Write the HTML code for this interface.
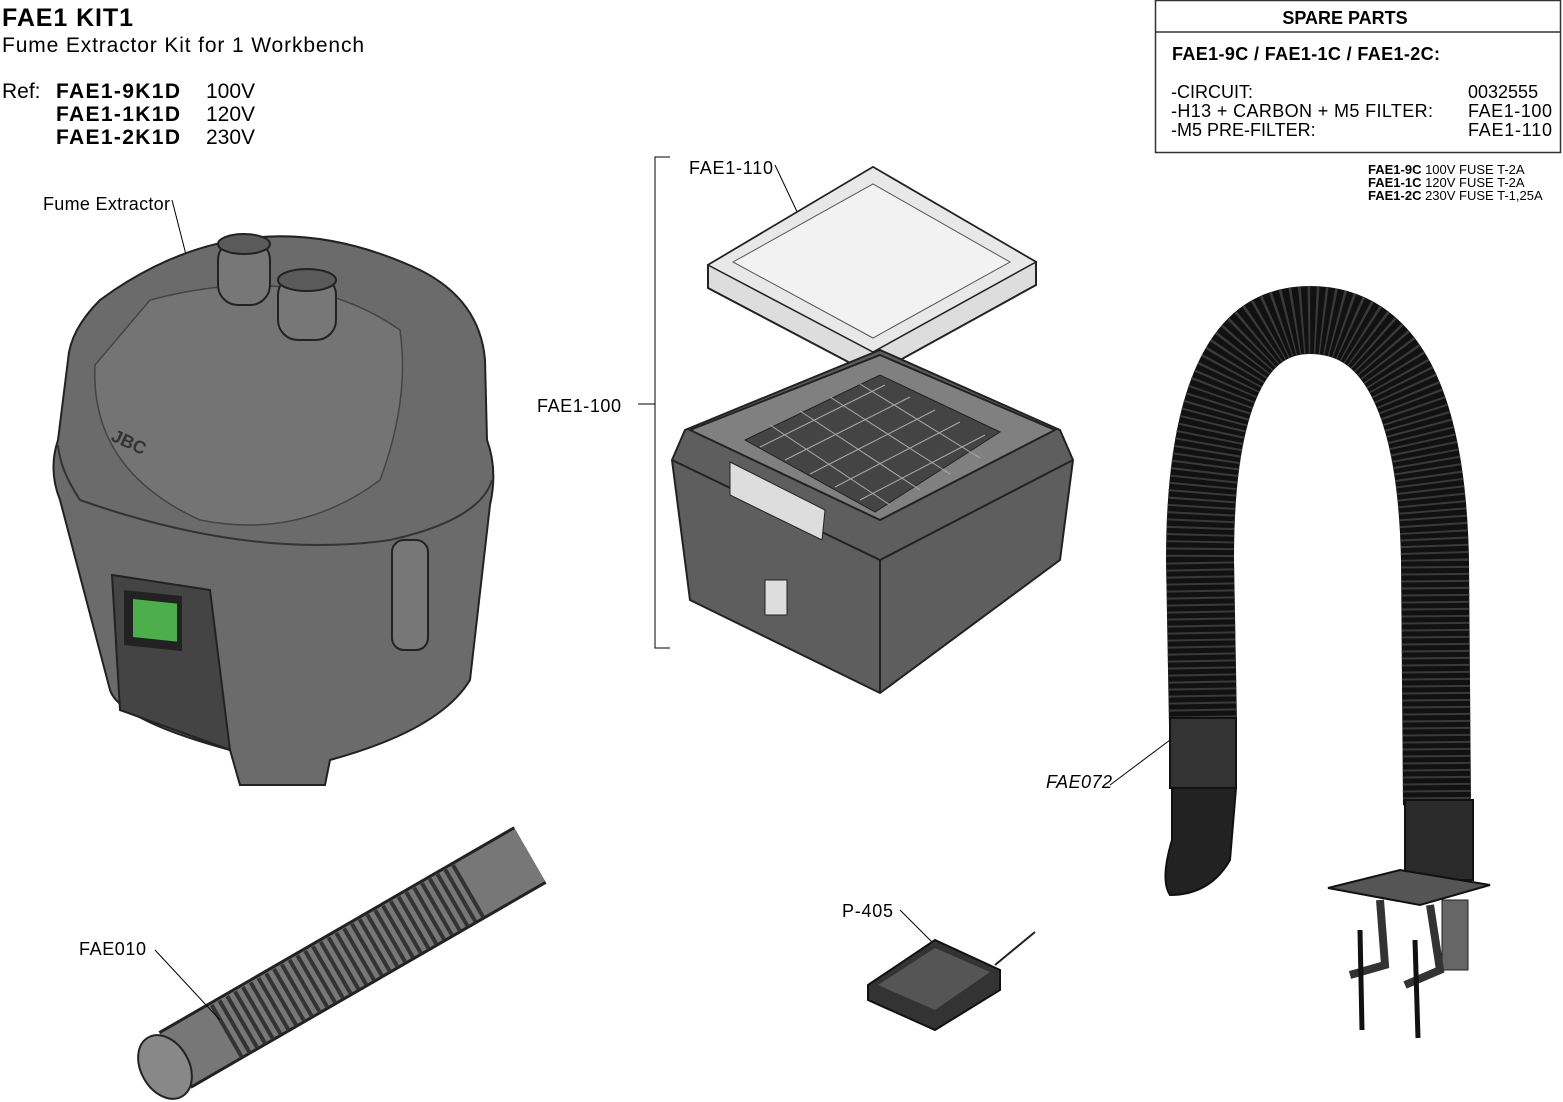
<!DOCTYPE html>
<html><head><meta charset="utf-8"><style>
html,body{margin:0;padding:0;background:#fff;}
svg{display:block;font-family:"Liberation Sans",Arial,sans-serif;}
</style></head><body>
<svg width="1563" height="1102" viewBox="0 0 1563 1102" xmlns="http://www.w3.org/2000/svg">
<!-- header text -->
<text x="2" y="26" font-size="25" font-weight="bold" textLength="131">FAE1 KIT1</text>
<text x="2" y="52" font-size="21" textLength="362">Fume Extractor Kit for 1 Workbench</text>
<text x="2" y="98" font-size="21">Ref:</text>
<text x="56" y="98" font-size="21" font-weight="bold" textLength="124">FAE1-9K1D</text>
<text x="56" y="121" font-size="21" font-weight="bold" textLength="124">FAE1-1K1D</text>
<text x="56" y="144" font-size="21" font-weight="bold" textLength="124">FAE1-2K1D</text>
<text x="206" y="98" font-size="21">100V</text>
<text x="206" y="121" font-size="21">120V</text>
<text x="206" y="144" font-size="21">230V</text>

<!-- spare parts box -->
<rect x="1155.5" y="0.5" width="405" height="152" fill="none" stroke="#333" stroke-width="1.5"/>
<line x1="1155" y1="32" x2="1561" y2="32" stroke="#333" stroke-width="1.5"/>
<text x="1345" y="24" font-size="18" font-weight="bold" text-anchor="middle">SPARE PARTS</text>
<text x="1172" y="60" font-size="18" font-weight="bold" textLength="268">FAE1-9C / FAE1-1C / FAE1-2C:</text>
<text x="1171" y="98" font-size="18">-CIRCUIT:</text>
<text x="1171" y="117" font-size="18" textLength="262">-H13 + CARBON + M5 FILTER:</text>
<text x="1171" y="136" font-size="18">-M5 PRE-FILTER:</text>
<text x="1468" y="98" font-size="18">0032555</text>
<text x="1468" y="117" font-size="18" textLength="84">FAE1-100</text>
<text x="1468" y="136" font-size="18" textLength="84">FAE1-110</text>
<text x="1368" y="174" font-size="13"><tspan font-weight="bold">FAE1-9C</tspan> 100V FUSE T-2A</text>
<text x="1368" y="187" font-size="13"><tspan font-weight="bold">FAE1-1C</tspan> 120V FUSE T-2A</text>
<text x="1368" y="200" font-size="13"><tspan font-weight="bold">FAE1-2C</tspan> 230V FUSE T-1,25A</text>

<!-- Fume extractor -->
<text x="43" y="210" font-size="18" textLength="127">Fume Extractor</text>
<line x1="172" y1="200" x2="193" y2="282" stroke="#000"/>
<path d="M100,300 Q250,190 420,270 Q480,300 485,360 L487,440 Q498,470 490,505 L470,680 Q440,730 330,760 L325,785 L240,785 L230,750 Q120,720 110,690 L60,500 Q48,470 58,440 L68,360 Q70,330 100,300 Z" fill="#6b6b6b" stroke="#222" stroke-width="2"/>
<path d="M58,445 Q60,470 80,500 Q250,560 390,540 Q480,520 492,480" fill="none" stroke="#333" stroke-width="2"/>
<path d="M95,365 Q90,470 200,520 Q300,540 380,480 Q410,400 400,330 Q300,260 150,300 Z" fill="#747474" stroke="#444" stroke-width="1.5"/>
<rect x="218" y="240" width="52" height="65" rx="20" fill="#777" stroke="#222" stroke-width="2"/>
<ellipse cx="244" cy="244" rx="26" ry="10" fill="#5a5a5a" stroke="#222" stroke-width="2"/>
<rect x="278" y="275" width="58" height="65" rx="20" fill="#777" stroke="#222" stroke-width="2"/>
<ellipse cx="307" cy="280" rx="29" ry="11" fill="#5a5a5a" stroke="#222" stroke-width="2"/>
<path d="M112,575 L210,590 L230,750 L120,710 Z" fill="#444" stroke="#222" stroke-width="2"/>
<rect x="124" y="590" width="58" height="55" fill="#222" transform="skewY(6) translate(0,-13)"/>
<rect x="133" y="598" width="44" height="38" fill="#4caf4c" transform="skewY(6) translate(0,-13)"/>
<rect x="392" y="540" width="36" height="110" rx="12" fill="#777" stroke="#222" stroke-width="2"/>
<text x="110" y="440" font-size="18" font-weight="bold" fill="#333" transform="rotate(25 110 440)">JBC</text>

<!-- FAE1-100 bracket -->
<path d="M670,157 L655,157 L655,648 L670,648" fill="none" stroke="#000"/>
<line x1="638" y1="404" x2="655" y2="404" stroke="#000"/>
<text x="537" y="412" font-size="18" textLength="84">FAE1-100</text>
<text x="689" y="174" font-size="18" textLength="84">FAE1-110</text>
<line x1="775" y1="165" x2="808" y2="235" stroke="#000"/>

<!-- filter panel -->
<polygon points="708,265 873,167 1036,262 1036,285 873,375 708,288" fill="#ddd" stroke="#222" stroke-width="2"/>
<polygon points="708,265 873,167 1036,262 873,352" fill="#e8e8e8" stroke="#222" stroke-width="1.5"/>
<polygon points="733,262 873,184 1010,262 873,338" fill="#f2f2f2" stroke="#555" stroke-width="1"/>

<!-- filter box -->
<polygon points="685,430 880,350 1060,430 1073,460 1060,560 880,693 690,600 672,460" fill="#5e5e5e" stroke="#222" stroke-width="2"/>
<polygon points="690,430 880,355 1055,430 880,520" fill="#808080" stroke="#222" stroke-width="2"/>
<polygon points="745,440 880,375 1000,432 875,512" fill="#444" stroke="#222" stroke-width="1"/>
<g stroke="#aaa" stroke-width="1">
<line x1="760" y1="447" x2="885" y2="385"/><line x1="785" y1="460" x2="910" y2="397"/><line x1="810" y1="474" x2="935" y2="410"/><line x1="835" y1="487" x2="960" y2="422"/><line x1="860" y1="500" x2="985" y2="435"/>
<line x1="770" y1="425" x2="890" y2="505"/><line x1="800" y1="411" x2="920" y2="490"/><line x1="830" y1="397" x2="950" y2="474"/><line x1="860" y1="384" x2="980" y2="458"/>
</g>
<polyline points="672,460 880,560 1073,460" fill="none" stroke="#222" stroke-width="2"/>
<line x1="880" y1="560" x2="880" y2="693" stroke="#222" stroke-width="2"/>
<polygon points="730,462 825,510 822,540 730,495" fill="#ddd" stroke="#222"/>
<rect x="765" y="580" width="22" height="35" fill="#ddd" stroke="#222"/>

<!-- Hose arch -->
<path d="M1203,725 L1200,560 Q1200,320 1310,320 Q1430,320 1435,560 L1437,805" fill="none" stroke="#111" stroke-width="68"/>
<path d="M1203,725 L1200,560 Q1200,320 1310,320 Q1430,320 1435,560 L1437,805" fill="none" stroke="#3a3a3a" stroke-width="68" stroke-dasharray="2 5"/>
<rect x="1170" y="718" width="66" height="70" fill="#333" stroke="#111" stroke-width="2"/>
<path d="M1172,788 L1236,788 L1230,860 Q1210,895 1170,895 Q1160,880 1172,840 Z" fill="#222" stroke="#111" stroke-width="2"/>
<rect x="1405" y="800" width="68" height="80" fill="#2a2a2a" stroke="#111" stroke-width="2"/>
<polygon points="1328,888 1400,870 1490,885 1420,905" fill="#555" stroke="#111" stroke-width="2"/>
<rect x="1442" y="900" width="26" height="70" fill="#666" stroke="#222"/>
<path d="M1380,900 L1385,965 L1350,975 M1430,905 L1440,970 L1405,985" fill="none" stroke="#333" stroke-width="8"/>
<line x1="1360" y1="930" x2="1362" y2="1030" stroke="#111" stroke-width="5"/>
<line x1="1415" y1="940" x2="1418" y2="1038" stroke="#111" stroke-width="5"/>
<text x="1046" y="788" font-size="18" font-style="italic" textLength="66">FAE072</text>
<line x1="1110" y1="785" x2="1170" y2="740" stroke="#000"/>

<!-- flexible tube -->
<line x1="175" y1="1060" x2="530" y2="855" stroke="#222" stroke-width="66"/>
<line x1="175" y1="1060" x2="530" y2="855" stroke="#777" stroke-width="60"/>
<line x1="225" y1="1032" x2="470" y2="890" stroke="#333" stroke-width="60" stroke-dasharray="4 5"/>
<ellipse cx="165" cy="1067" rx="24" ry="34" transform="rotate(-30 165 1067)" fill="#888" stroke="#222" stroke-width="2"/>
<text x="79" y="955" font-size="18" textLength="67">FAE010</text>
<line x1="155" y1="950" x2="220" y2="1020" stroke="#000"/>

<!-- pedal -->
<text x="842" y="917" font-size="18" textLength="51">P-405</text>
<line x1="900" y1="910" x2="940" y2="950" stroke="#000"/>
<polygon points="868,985 935,940 1000,970 1000,990 935,1030 868,1000" fill="#333" stroke="#111" stroke-width="2"/>
<polygon points="878,985 935,948 990,972 935,1010" fill="#555"/>
<path d="M995,965 L1035,932" stroke="#222" stroke-width="2"/>
</svg>
</body></html>
